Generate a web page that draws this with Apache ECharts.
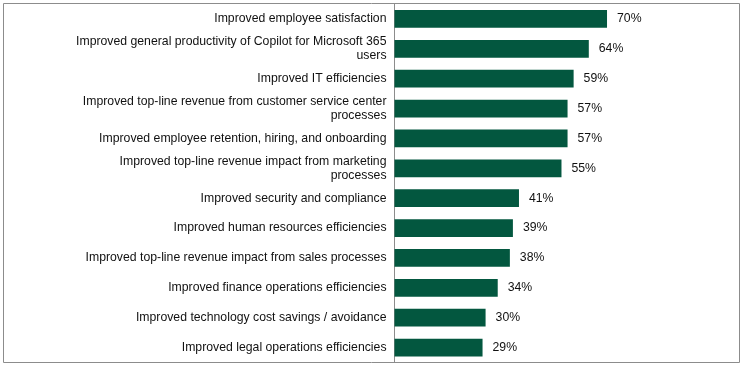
<!DOCTYPE html>
<html><head><meta charset="utf-8">
<script src="https://cdn.jsdelivr.net/npm/echarts@6/dist/echarts.min.js"></script>
<style>html,body{margin:0;padding:0;background:#fff}#c{width:745px;height:367px}</style>
</head><body><div id="c"></div>
<script>
const categories = [
  "Improved employee satisfaction",
  "Improved general productivity of Copilot for Microsoft 365\nusers",
  "Improved IT efficiencies",
  "Improved top-line revenue from customer service center\nprocesses",
  "Improved employee retention, hiring, and onboarding",
  "Improved top-line revenue impact from marketing\nprocesses",
  "Improved security and compliance",
  "Improved human resources efficiencies",
  "Improved top-line revenue impact from sales processes",
  "Improved finance operations efficiencies",
  "Improved technology cost savings / avoidance",
  "Improved legal operations efficiencies"
];
const values = [70, 64, 59, 57, 57, 55, 41, 39, 38, 34, 30, 29];

const chart = echarts.init(document.getElementById('c'), null, {renderer: 'canvas'});
chart.setOption({
  animation: false,
  graphic: [{
    type: 'rect', shape: {x: 3.5, y: 3.5, width: 736, height: 359},
    style: {fill: 'none', stroke: '#8c8c8c', lineWidth: 1}, z: 0
  }],
  grid: {left: 394.5, top: 4, width: 303.6, height: 358.5, containLabel: false},
  xAxis: {type: 'value', min: 0, max: 100, show: false},
  yAxis: {
    type: 'category', data: categories, inverse: true,
    axisLine: {show: true, lineStyle: {color: '#8c8c8c', width: 1}},
    axisTick: {show: false},
    axisLabel: {
      color: '#111', fontFamily: 'Liberation Sans, Arial', fontSize: 12.25,
      margin: 8, align: 'right', lineHeight: 14
    }
  },
  series: [{
    type: 'bar', data: values, barCategoryGap: '41%',
    itemStyle: {color: '#03573f'},
    label: {
      show: true, position: 'right', distance: 10,
      formatter: p => p.value + '%',
      color: '#111', fontFamily: 'Liberation Sans, Arial', fontSize: 12.25
    }
  }]
});
</script></body></html>
